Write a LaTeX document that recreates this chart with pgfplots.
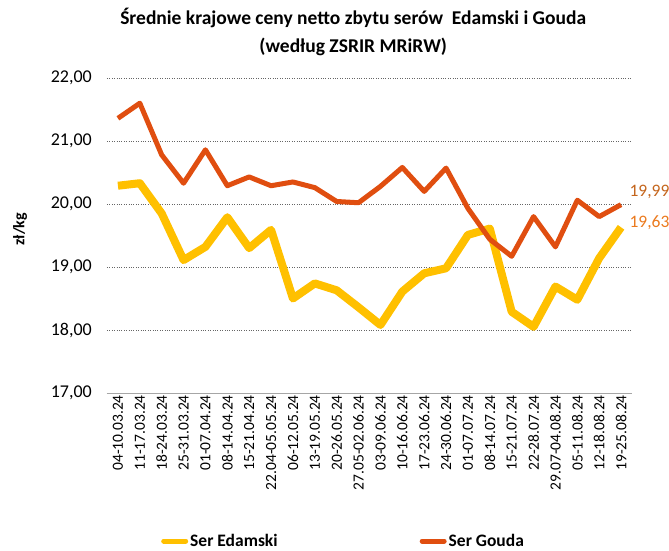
\documentclass[border=0pt]{standalone}
\usepackage{pgfplots}
\pgfplotsset{compat=1.18}
\usepackage{fontspec}
\setmainfont{Carlito}
\definecolor{gouda}{HTML}{E04E10}
\definecolor{edam}{HTML}{FFC000}
\definecolor{lblg}{HTML}{C4651C}
\definecolor{lble}{HTML}{EB7A1E}
\pgfplotstableread{
i edam gouda
0 20.29 21.36
1 20.33 21.60
2 19.85 20.78
3 19.11 20.33
4 19.32 20.86
5 19.79 20.29
6 19.30 20.43
7 19.59 20.29
8 18.50 20.35
9 18.74 20.26
10 18.63 20.04
11 18.36 20.02
12 18.08 20.28
13 18.61 20.58
14 18.90 20.20
15 18.98 20.57
16 19.51 19.93
17 19.61 19.44
18 18.29 19.17
19 18.05 19.80
20 18.69 19.32
21 18.48 20.06
22 19.14 19.80
23 19.63 19.99
}\data
\begin{document}
\begin{tikzpicture}
\useasboundingbox (-107pt,-157pt) rectangle (562pt,393pt);
\begin{axis}[
  at={(0pt,0pt)}, anchor=south west,
  scale only axis, width=525pt, height=315pt,
  xmin=-0.5, xmax=23.5, ymin=17, ymax=22,
  ytick={17,18,19,20,21,22},
  xtick=data,
  xticklabels={04-10.03.24,11-17.03.24,18-24.03.24,25-31.03.24,01-07.04.24,08-14.04.24,15-21.04.24,22.04-05.05.24,06-12.05.24,13-19.05.24,20-26.05.24,27.05-02.06.24,03-09.06.24,10-16.06.24,17-23.06.24,24-30.06.24,01-07.07.24,08-14.07.24,15-21.07.24,22-28.07.24,29.07-04.08.24,05-11.08.24,12-18.08.24,19-25.08.24},
  x tick label style={rotate=90, anchor=east, font=\fontsize{15.5}{17}\selectfont, inner sep=2pt},
  y tick label style={font=\fontsize{18}{20}\selectfont, inner sep=0pt, xshift=-15pt},
  /pgf/number format/assume math mode=true,
  yticklabel={\pgfmathprintnumber[fixed, fixed zerofill, precision=2, use comma]{\tick}},
  major tick length=0pt,
  axis x line*=bottom, axis y line*=left,
  y axis line style={draw=none},
  x axis line style={draw=gray!70, line width=0.8pt, -},
  ymajorgrids, grid style={gray!80!black, dotted, line width=0.7pt},
  title={\bfseries Średnie krajowe ceny netto zbytu serów\ \ Edamski i Gouda\\\bfseries (według ZSRIR MRiRW)},
  title style={font=\fontsize{19.5}{28}\selectfont, align=center, at={(0.469,1)}, anchor=south, yshift=13pt},
  legend style={at={(54pt,-148pt)}, anchor=west, draw=none, fill=none, font=\bfseries\fontsize{17.5}{20}\selectfont, legend columns=2, /tikz/every even column/.append style={column sep=140pt}, inner sep=0pt},
  legend cell align=left,
  legend image code/.code={\draw[#1, line width=5pt, line cap=round] (0pt,0pt) -- (22pt,0pt);},
  clip=false,
]
\addplot[edam, line width=8pt, line join=round] table[x=i, y=edam] {\data};
\addlegendentry{Ser Edamski}
\addplot[gouda, line width=5pt, line join=round] table[x=i, y=gouda] {\data};
\addlegendentry{Ser Gouda}
\node[anchor=west, inner sep=0pt, text=lblg, font=\fontsize{17.5}{20}\selectfont] at (axis cs:23.38,20.19) {19,99};
\node[anchor=west, inner sep=0pt, text=lble, font=\fontsize{17.5}{20}\selectfont] at (axis cs:23.38,19.71) {19,63};
\node[rotate=90, inner sep=0pt, font=\bfseries\fontsize{16}{18}\selectfont] at ([xshift=-87pt]rel axis cs:0,0.52) {zł/kg};
\end{axis}
\end{tikzpicture}
\end{document}
